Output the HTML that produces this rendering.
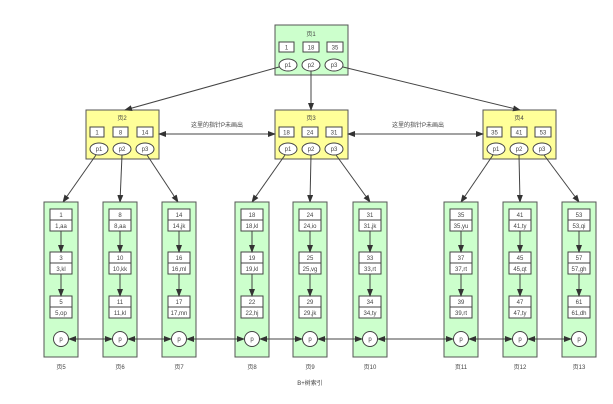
<!DOCTYPE html>
<html><head><meta charset="utf-8"><style>
html,body{margin:0;padding:0;background:#fff;}
svg{display:block;}
text{font-family:"Liberation Sans","Noto Sans CJK SC",sans-serif;font-size:6px;fill:#444;text-anchor:middle;}
.k{fill:#fff;stroke:#444;stroke-width:1}
.l{stroke:#444;stroke-width:1;fill:none}
</style></head><body>
<svg width="613" height="404" viewBox="0 0 613 404" xmlns="http://www.w3.org/2000/svg">
<defs>
<marker id="a" markerWidth="8" markerHeight="6" refX="7" refY="3" orient="auto" markerUnits="userSpaceOnUse"><path d="M0,0 L8,3 L0,6 z" fill="#333"/></marker>
<marker id="b" markerWidth="8" markerHeight="6" refX="1" refY="3" orient="auto" markerUnits="userSpaceOnUse"><path d="M8,0 L0,3 L8,6 z" fill="#333"/></marker>
<g id="lf">
<rect x="0" y="202" width="34" height="155" fill="#ccffcc" stroke="#555"/>
<rect class="k" x="6" y="209" width="22" height="22"/><line class="l" x1="6" y1="220" x2="28" y2="220"/>
<rect class="k" x="6" y="252" width="22" height="22"/><line class="l" x1="6" y1="263" x2="28" y2="263"/>
<rect class="k" x="6" y="296" width="22" height="22"/><line class="l" x1="6" y1="307" x2="28" y2="307"/>
<line class="l" x1="17" y1="231" x2="17" y2="252" marker-end="url(#a)"/>
<line class="l" x1="17" y1="274" x2="17" y2="296" marker-end="url(#a)"/>
<circle class="k" cx="17" cy="339" r="7.5"/><text x="17" y="341">p</text>
</g>
</defs>
<g class="l">
<rect x="275" y="25" width="73" height="50" fill="#ccffcc" stroke="#555"/>
<rect x="86" y="110" width="73" height="49" fill="#ffff99" stroke="#555"/>
<rect x="275" y="110" width="73" height="49" fill="#ffff99" stroke="#555"/>
<rect x="483" y="110" width="73" height="49" fill="#ffff99" stroke="#555"/>
</g>
<g class="k">
<rect x="279" y="42" width="15" height="10"/><rect x="303" y="42" width="16" height="10"/><rect x="327" y="42" width="16" height="10"/>
<rect x="90" y="127" width="14" height="10"/><rect x="113" y="127" width="15" height="10"/><rect x="137" y="127" width="16" height="10"/>
<rect x="279" y="127" width="15" height="10"/><rect x="302" y="127" width="16" height="10"/><rect x="326" y="127" width="16" height="10"/>
<rect x="487" y="127" width="15" height="10"/><rect x="511" y="127" width="16" height="10"/><rect x="535" y="127" width="16" height="10"/>
<ellipse cx="288" cy="65" rx="9" ry="6"/><ellipse cx="311" cy="65" rx="9" ry="6"/><ellipse cx="334" cy="65" rx="9" ry="6"/>
<ellipse cx="99" cy="149" rx="9" ry="6"/><ellipse cx="122" cy="149" rx="9" ry="6"/><ellipse cx="145" cy="149" rx="9" ry="6"/>
<ellipse cx="288" cy="149" rx="9" ry="6"/><ellipse cx="311" cy="149" rx="9" ry="6"/><ellipse cx="334" cy="149" rx="9" ry="6"/>
<ellipse cx="496" cy="149" rx="9" ry="6"/><ellipse cx="519" cy="149" rx="9" ry="6"/><ellipse cx="542" cy="149" rx="9" ry="6"/>
</g>
<g class="l">
<line x1="279" y1="67" x2="125" y2="110" marker-end="url(#a)"/>
<line x1="311" y1="71" x2="311" y2="110" marker-end="url(#a)"/>
<line x1="343" y1="67" x2="520" y2="110" marker-end="url(#a)"/>
<line x1="159" y1="134" x2="275" y2="134" marker-start="url(#b)" marker-end="url(#a)"/>
<line x1="348" y1="134" x2="483" y2="134" marker-start="url(#b)" marker-end="url(#a)"/>
<line x1="96" y1="155" x2="63" y2="202" marker-end="url(#a)"/>
<line x1="122" y1="155" x2="120" y2="202" marker-end="url(#a)"/>
<line x1="147" y1="155" x2="178" y2="202" marker-end="url(#a)"/>
<line x1="285" y1="155" x2="252" y2="202" marker-end="url(#a)"/>
<line x1="311" y1="155" x2="310" y2="202" marker-end="url(#a)"/>
<line x1="336" y1="155" x2="370" y2="202" marker-end="url(#a)"/>
<line x1="493" y1="155" x2="461" y2="202" marker-end="url(#a)"/>
<line x1="519" y1="155" x2="520" y2="202" marker-end="url(#a)"/>
<line x1="544" y1="155" x2="579" y2="202" marker-end="url(#a)"/>
</g>
<use href="#lf" x="44"/><use href="#lf" x="103"/><use href="#lf" x="162"/>
<use href="#lf" x="235"/><use href="#lf" x="293"/><use href="#lf" x="353"/>
<use href="#lf" x="444"/><use href="#lf" x="503"/><use href="#lf" x="562"/>
<g class="l">
<line x1="69" y1="339" x2="112" y2="339" marker-start="url(#b)" marker-end="url(#a)"/>
<line x1="128" y1="339" x2="171" y2="339" marker-start="url(#b)" marker-end="url(#a)"/>
<line x1="187" y1="339" x2="244" y2="339" marker-start="url(#b)" marker-end="url(#a)"/>
<line x1="260" y1="339" x2="302" y2="339" marker-start="url(#b)" marker-end="url(#a)"/>
<line x1="318" y1="339" x2="362" y2="339" marker-start="url(#b)" marker-end="url(#a)"/>
<line x1="378" y1="339" x2="453" y2="339" marker-start="url(#b)" marker-end="url(#a)"/>
<line x1="469" y1="339" x2="512" y2="339" marker-start="url(#b)" marker-end="url(#a)"/>
<line x1="528" y1="339" x2="571" y2="339" marker-start="url(#b)" marker-end="url(#a)"/>
</g>
<text x="311" y="36">页1</text>
<text x="286.5" y="49.5">1</text><text x="311" y="49.5">18</text><text x="335" y="49.5">35</text>
<text x="288" y="67">p1</text><text x="311" y="67">p2</text><text x="334" y="67">p3</text>
<text x="122" y="120">页2</text><text x="311" y="120">页3</text><text x="519" y="120">页4</text>
<text x="97" y="134.5">1</text><text x="120.5" y="134.5">8</text><text x="145" y="134.5">14</text>
<text x="286.5" y="134.5">18</text><text x="310" y="134.5">24</text><text x="334" y="134.5">31</text>
<text x="494.5" y="134.5">35</text><text x="519" y="134.5">41</text><text x="543" y="134.5">53</text>
<text x="99" y="151">p1</text><text x="122" y="151">p2</text><text x="145" y="151">p3</text>
<text x="288" y="151">p1</text><text x="311" y="151">p2</text><text x="334" y="151">p3</text>
<text x="496" y="151">p1</text><text x="519" y="151">p2</text><text x="542" y="151">p3</text>
<text x="217" y="127">这里的指针P未画出</text>
<text x="418" y="127">这里的指针P未画出</text>
<text x="310" y="385">B+树索引</text>
<g>
<text x="61" y="217">1</text><text x="61" y="228">1,aa</text><text x="61" y="260">3</text><text x="61" y="271">3,kl</text><text x="61" y="304">5</text><text x="61" y="315">5,op</text><text x="61" y="369">页5</text>
<text x="120" y="217">8</text><text x="120" y="228">8,aa</text><text x="120" y="260">10</text><text x="120" y="271">10,kk</text><text x="120" y="304">11</text><text x="120" y="315">11,kl</text><text x="120" y="369">页6</text>
<text x="179" y="217">14</text><text x="179" y="228">14,jk</text><text x="179" y="260">16</text><text x="179" y="271">16,ml</text><text x="179" y="304">17</text><text x="179" y="315">17,mn</text><text x="179" y="369">页7</text>
<text x="252" y="217">18</text><text x="252" y="228">18,kl</text><text x="252" y="260">19</text><text x="252" y="271">19,kl</text><text x="252" y="304">22</text><text x="252" y="315">22,hj</text><text x="252" y="369">页8</text>
<text x="310" y="217">24</text><text x="310" y="228">24,io</text><text x="310" y="260">25</text><text x="310" y="271">25,vg</text><text x="310" y="304">29</text><text x="310" y="315">29,jk</text><text x="310" y="369">页9</text>
<text x="370" y="217">31</text><text x="370" y="228">31,jk</text><text x="370" y="260">33</text><text x="370" y="271">33,rt</text><text x="370" y="304">34</text><text x="370" y="315">34,ty</text><text x="370" y="369">页10</text>
<text x="461" y="217">35</text><text x="461" y="228">35,yu</text><text x="461" y="260">37</text><text x="461" y="271">37,rt</text><text x="461" y="304">39</text><text x="461" y="315">39,rt</text><text x="461" y="369">页11</text>
<text x="520" y="217">41</text><text x="520" y="228">41,ty</text><text x="520" y="260">45</text><text x="520" y="271">45,qt</text><text x="520" y="304">47</text><text x="520" y="315">47,ty</text><text x="520" y="369">页12</text>
<text x="579" y="217">53</text><text x="579" y="228">53,qi</text><text x="579" y="260">57</text><text x="579" y="271">57,gh</text><text x="579" y="304">61</text><text x="579" y="315">61,dh</text><text x="579" y="369">页13</text>
</g>
</svg>
</body></html>
